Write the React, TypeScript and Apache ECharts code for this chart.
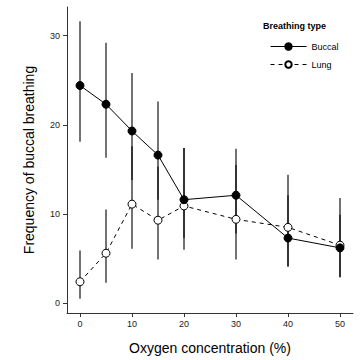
import React, { useEffect, useRef } from "react";
import * as echarts from "echarts";

const oxygen = [0, 5, 10, 15, 20, 30, 40, 50];
const buccalMean = [24.4, 22.3, 19.3, 16.6, 11.6, 12.1, 7.3, 6.2];
const buccalUpper = [31.6, 29.2, 25.8, 22.6, 17.4, 17.3, 12.1, 9.9];
const buccalLower = [18.1, 16.3, 13.8, 11.6, 7.3, 7.8, 4.1, 2.9];
const lungMean = [2.4, 5.6, 11.1, 9.3, 10.9, 9.4, 8.5, 6.5];
const lungUpper = [5.9, 10.5, 17.6, 15.3, 17.4, 15.5, 14.4, 11.8];
const lungLower = [0.5, 2.3, 6.1, 4.9, 6.0, 4.9, 4.1, 2.9];
const xTicks = [0, 10, 20, 30, 40, 50];
const yTicks = [0, 10, 20, 30];

const FONT = "Liberation Sans";

const errData = [
  ...oxygen.map((x, i) => [x, buccalLower[i], buccalUpper[i]]),
  ...oxygen.map((x, i) => [x, lungLower[i], lungUpper[i]]),
];

export default function App() {
  const ref = useRef<HTMLDivElement>(null);
  useEffect(() => {
    if (!ref.current) return;
    const chart = echarts.init(ref.current, null, { renderer: "svg" });
    chart.setOption({
      animation: false,
      backgroundColor: "#fff",
      textStyle: { fontFamily: FONT },
      grid: { left: 67, top: 7, right: 7, bottom: 47 },
      xAxis: {
        type: "value",
        min: -2.5,
        max: 52.5,
        name: "Oxygen concentration (%)",
        nameLocation: "middle",
        nameGap: 28,
        nameTextStyle: { fontSize: 14, color: "#000", fontFamily: FONT },
        axisLine: { show: true, onZero: false, lineStyle: { color: "#333", width: 1 } },
        axisTick: { show: true, length: 4, customValues: xTicks, lineStyle: { color: "#333" } },
        axisLabel: { customValues: xTicks, fontSize: 9, color: "#222", margin: 6, fontFamily: FONT },
        splitLine: { show: false },
      },
      yAxis: {
        type: "value",
        min: -1.1,
        max: 33.2,
        name: "Frequency of buccal breathing",
        nameLocation: "middle",
        nameGap: 31,
        nameTextStyle: { fontSize: 14, color: "#000", fontFamily: FONT },
        axisLine: { show: true, onZero: false, lineStyle: { color: "#333", width: 1 } },
        axisTick: { show: true, length: 4, customValues: yTicks, lineStyle: { color: "#333" } },
        axisLabel: { customValues: yTicks, fontSize: 9, color: "#222", margin: 7, fontFamily: FONT },
        splitLine: { show: false },
      },
      legend: {
        orient: "vertical",
        left: 265,
        top: 37,
        itemWidth: 36,
        itemHeight: 8,
        itemGap: 9,
        lineStyle: { width: 1 },
        textStyle: { fontSize: 9, color: "#000", fontFamily: FONT },
        data: ["Buccal", "Lung"],
      },
      graphic: [
        {
          type: "text",
          left: 263,
          top: 21,
          style: { text: "Breathing type", font: `bold 9px ${FONT}`, fill: "#000" },
        },
      ],
      series: [
        {
          type: "custom",
          silent: true,
          z: 1,
          clip: false,
          data: errData,
          encode: { x: 0, y: [1, 2] },
          renderItem: (params: any, api: any) => {
            const p1 = api.coord([api.value(0), api.value(1)]);
            const p2 = api.coord([api.value(0), api.value(2)]);
            return {
              type: "line",
              shape: { x1: p1[0], y1: p1[1], x2: p2[0], y2: p2[1] },
              style: { stroke: "rgba(0,0,0,0.55)", lineWidth: 2 },
            };
          },
        },
        {
          name: "Lung",
          type: "line",
          z: 3,
          data: oxygen.map((x, i) => [x, lungMean[i]]),
          symbol: "circle",
          symbolSize: 8,
          lineStyle: { color: "#000", width: 1, type: [4, 4] },
          itemStyle: { color: "#fff", borderColor: "#000", borderWidth: 1 },
        },
        {
          name: "Buccal",
          type: "line",
          z: 4,
          data: oxygen.map((x, i) => [x, buccalMean[i]]),
          symbol: "circle",
          symbolSize: 8,
          lineStyle: { color: "#000", width: 1 },
          itemStyle: { color: "#000", borderColor: "#000", borderWidth: 1 },
        },
      ],
    });
    return () => chart.dispose();
  }, []);
  return (
    <div
      ref={ref}
      style={{ position: "fixed", left: 0, top: 0, width: 360, height: 360 }}
    />
  );
}
